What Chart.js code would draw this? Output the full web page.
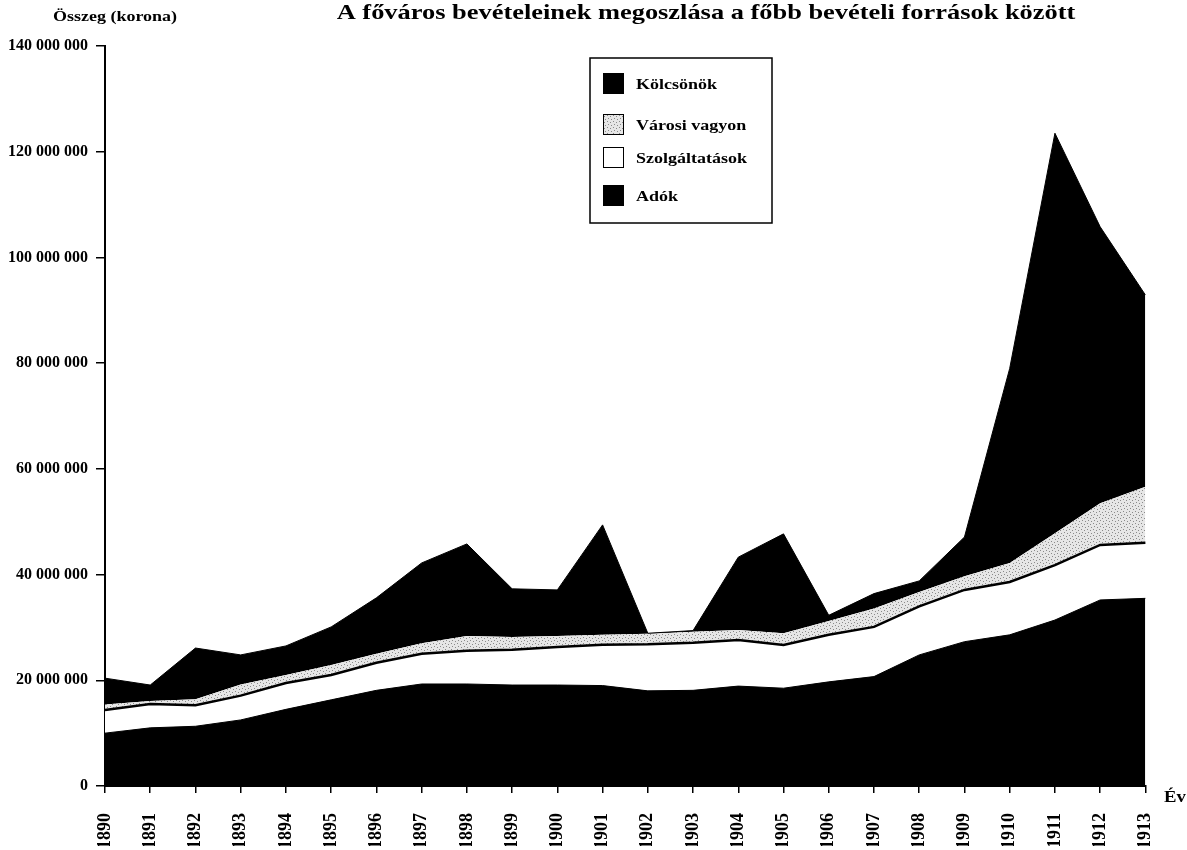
<!DOCTYPE html>
<html>
<head>
<meta charset="utf-8">
<script src="https://cdn.jsdelivr.net/npm/chart.js@4.4.0/dist/chart.umd.min.js"></script>
<style>
  html, body { margin: 0; padding: 0; background: #fff; }
  canvas { display: block; }
</style>
</head>
<body>
<canvas id="area-chart" width="1187" height="850"></canvas>
<script>
// years on the x axis
const years = ["1890", "1891", "1892", "1893", "1894", "1895", "1896", "1897", "1898", "1899", "1900", "1901",
  "1902", "1903", "1904", "1905", "1906", "1907", "1908", "1909", "1910", "1911", "1912", "1913"];

// revenue by source, korona
const adok = [10000000, 11000000, 11300000, 12500000, 14500000, 16300000, 18100000, 19300000, 19300000, 19100000,
  19100000, 19000000, 18000000, 18100000, 18900000, 18500000, 19700000, 20700000, 24800000, 27300000,
  28600000, 31400000, 35200000, 35500000];
const szolgaltatasok = [4400000, 4500000, 4000000, 4600000, 5000000, 4700000, 5200000, 5700000, 6300000, 6700000,
  7200000, 7700000, 8800000, 9000000, 8700000, 8200000, 8900000, 9400000, 9200000, 9800000,
  10000000, 10400000, 10400000, 10500000];
const varosiVagyon = [1000000, 600000, 1100000, 2100000, 1500000, 1900000, 1700000, 2000000, 2800000, 2400000,
  2100000, 1900000, 2000000, 2100000, 1900000, 2200000, 2600000, 3500000, 2700000, 2600000,
  3600000, 6000000, 7900000, 10600000];
const kolcsonok = [5000000, 3000000, 9700000, 5600000, 5500000, 7200000, 10600000, 15200000, 17400000, 9100000,
  8700000, 20800000, 100000, 200000, 13800000, 18800000, 1100000, 2800000, 2100000, 7400000,
  36800000, 75700000, 52300000, 36300000];

const yTicks = [0, 20000000, 40000000, 60000000, 80000000, 100000000, 120000000, 140000000];

const serif = "'Liberation Serif', 'Times New Roman', serif";

// grey stipple for the "Városi vagyon" band
function stipple() {
  const c = document.createElement("canvas");
  c.width = 6;
  c.height = 6;
  const g = c.getContext("2d");
  g.fillStyle = "#e6e6e6";
  g.fillRect(0, 0, 6, 6);
  g.fillStyle = "#8a8a8a";
  g.fillRect(1, 1, 1, 1);
  g.fillRect(4, 2, 1, 1);
  g.fillRect(2, 4, 1, 1);
  g.fillRect(5, 5, 1, 1);
  return g.createPattern(c, "repeat");
}

// the printed type is a bit wider than Liberation Serif, so stretch it sideways
function wideText(ctx, text, x, y, sx) {
  ctx.save();
  ctx.translate(x, y);
  ctx.scale(sx, 1);
  ctx.fillText(text, 0, 0);
  ctx.restore();
}

// title, axis captions and the boxed legend
const paperText = {
  id: "paperText",
  afterDraw(chart) {
    const ctx = chart.ctx;
    ctx.save();
    ctx.fillStyle = "#000";
    ctx.textBaseline = "alphabetic";

    ctx.font = "bold 22px " + serif;
    ctx.textAlign = "center";
    wideText(ctx, "A főváros bevételeinek megoszlása a főbb bevételi források között", 706, 19, 1.2);

    ctx.font = "bold 15px " + serif;
    wideText(ctx, "Összeg (korona)", 115, 21, 1.2);

    ctx.font = "bold 17px " + serif;
    ctx.textAlign = "left";
    wideText(ctx, "Év", 1164, 802, 1.1);

    // legend box
    const bx = 590, by = 58, bw = 182, bh = 165;
    ctx.lineWidth = 1.5;
    ctx.strokeStyle = "#000";
    ctx.fillStyle = "#fff";
    ctx.fillRect(bx, by, bw, bh);
    ctx.strokeRect(bx, by, bw, bh);

    const rows = chart.data.datasets.slice().reverse();
    const rowY = [84, 125, 158, 196];
    ctx.font = "bold 15px " + serif;
    rows.forEach((ds, i) => {
      const y = rowY[i];
      ctx.fillStyle = ds.backgroundColor;
      ctx.fillRect(603, y - 11, 20, 20);
      ctx.lineWidth = 1;
      ctx.strokeRect(603.5, y - 10.5, 20, 20);
      ctx.fillStyle = "#000";
      wideText(ctx, ds.label, 636, y + 5, 1.2);
    });
    ctx.restore();
  }
};

const ctx = document.getElementById("area-chart").getContext("2d");
const dots = stipple();

new Chart(ctx, {
  type: "line",
  data: {
    labels: years,
    datasets: [
      { label: "Adók", data: adok, backgroundColor: "#000", borderColor: "#000", borderWidth: 1, fill: "origin" },
      { label: "Szolgáltatások", data: szolgaltatasok, backgroundColor: "#fff", borderColor: "#000", borderWidth: 2.5, fill: "-1" },
      { label: "Városi vagyon", data: varosiVagyon, backgroundColor: dots, borderColor: "rgba(0,0,0,0)", borderWidth: 0, fill: "-1" },
      { label: "Kölcsönök", data: kolcsonok, backgroundColor: "#000", borderColor: "#000", borderWidth: 1, fill: "-1" }
    ]
  },
  options: {
    responsive: false,
    animation: false,
    devicePixelRatio: 1,
    layout: { padding: { left: 0, right: 36, top: 46, bottom: 4 } },
    elements: { point: { radius: 0 }, line: { tension: 0 } },
    plugins: {
      legend: { display: false },
      tooltip: { enabled: false },
      filler: { drawTime: "beforeDatasetsDraw" }
    },
    scales: {
      x: {
        offset: false,
        grid: { drawOnChartArea: false, drawTicks: true, tickLength: 7, color: "#000", lineWidth: 1.5 },
        border: { display: true, color: "#000", width: 2 },
        ticks: {
          color: "#000",
          font: { family: serif, size: 18, weight: "bold" },
          minRotation: 90,
          maxRotation: 90,
          autoSkip: false,
          padding: 20
        },
        afterFit(scale) { scale.height = 60; }
      },
      y: {
        stacked: true,
        min: 0,
        max: 140000000,
        afterBuildTicks(scale) { scale.ticks = yTicks.map(v => ({ value: v })); },
        grid: { drawOnChartArea: false, drawTicks: true, tickLength: 9, color: "#000", lineWidth: 1.5 },
        border: { display: true, color: "#000", width: 2 },
        ticks: {
          color: "#000",
          autoSkip: false,
          font: { family: serif, size: 16, weight: "bold" },
          padding: 8,
          callback: v => String(v).replace(/\B(?=(\d{3})+(?!\d))/g, " ")
        },
        afterFit(scale) { scale.width = 105; }
      }
    }
  },
  plugins: [paperText]
});
</script>
</body>
</html>
